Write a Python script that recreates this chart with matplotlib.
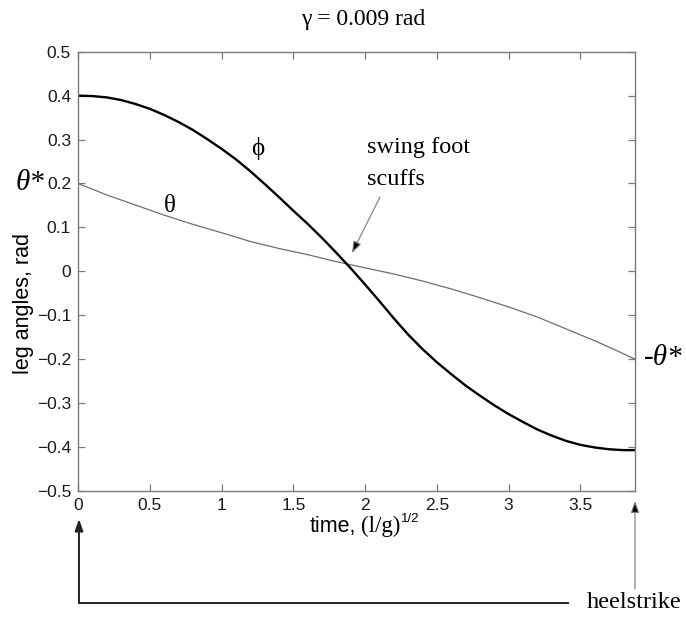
import matplotlib
matplotlib.use("Agg")
import matplotlib.pyplot as plt
from matplotlib.lines import Line2D

# Swing-leg angle phi over one step
t_phi = [0.0, 0.1, 0.2, 0.3, 0.4, 0.5, 0.6, 0.7, 0.8, 0.9, 1.0, 1.1, 1.2, 1.3,
         1.4, 1.5, 1.6, 1.7, 1.8, 1.9, 2.0, 2.1, 2.2, 2.3, 2.4, 2.5, 2.6, 2.7,
         2.8, 2.9, 3.0, 3.1, 3.2, 3.3, 3.4, 3.5, 3.6, 3.7, 3.8, 3.88]
phi = [0.400, 0.399, 0.396, 0.390, 0.381, 0.370, 0.356, 0.340, 0.322, 0.301,
       0.279, 0.255, 0.228, 0.199, 0.169, 0.138, 0.108, 0.076, 0.042, 0.007,
       -0.030, -0.068, -0.107, -0.144, -0.177, -0.207, -0.234, -0.260, -0.283,
       -0.305, -0.325, -0.343, -0.360, -0.374, -0.386, -0.395, -0.401, -0.405,
       -0.407, -0.407]

# Stance-leg angle theta over one step
t_theta = [0.0, 0.2, 0.4, 0.6, 0.8, 1.0, 1.2, 1.4, 1.6, 1.8, 2.0, 2.2, 2.4, 2.6,
           2.8, 3.0, 3.2, 3.4, 3.6, 3.75, 3.88]
theta = [0.200, 0.174, 0.151, 0.128, 0.107, 0.088, 0.068, 0.052, 0.038, 0.022,
         0.008, -0.006, -0.022, -0.040, -0.060, -0.081, -0.104, -0.131, -0.158,
         -0.180, -0.200]

x_ticks = [0, 0.5, 1, 1.5, 2, 2.5, 3, 3.5]
x_tick_labels = ["0", "0.5", "1", "1.5", "2", "2.5", "3", "3.5"]
y_ticks = [-0.5, -0.4, -0.3, -0.2, -0.1, 0, 0.1, 0.2, 0.3, 0.4, 0.5]
y_tick_labels = ["\u22120.5", "\u22120.4", "\u22120.3", "\u22120.2", "\u22120.1", "0",
                 "0.1", "0.2", "0.3", "0.4", "0.5"]

W, H = 686, 619
SANS = ["Liberation Sans", "DejaVu Sans"]
SERIF = ["Liberation Serif", "DejaVu Serif"]
SPINE = "#7a7a7a"

fig = plt.figure(figsize=(W / 100, H / 100), dpi=100)
ax = fig.add_axes([78 / W, 1 - 491 / H, (635 - 78) / W, (491 - 51.7) / H])

ax.plot(t_theta, theta, color="#6e6e6e", lw=0.9)
ax.plot(t_phi, phi, color="black", lw=1.7)

ax.set_xlim(0, 3.88)
ax.set_ylim(-0.5, 0.5)
ax.set_xticks(x_ticks)
ax.set_xticklabels(x_tick_labels, family=SANS, fontsize=12.5, color="#1a1a1a")
ax.set_yticks(y_ticks)
ax.set_yticklabels(y_tick_labels, family=SANS, fontsize=12.5, color="#1a1a1a")
ax.tick_params(direction="in", length=5, width=0.9, color=SPINE,
               top=True, right=True, pad=5)
for s in ax.spines.values():
    s.set_color(SPINE)
    s.set_linewidth(1.0)


def px(x, y):
    """Figure-fraction position from pixel coordinates measured from top-left."""
    return x / W, 1 - y / H


# Title
fig.text(*px(363, 20), "\u03b3 = 0.009 rad", family=SERIF, fontsize=17,
         ha="center", va="center")

# Axis labels
fig.text(*px(24, 304), "leg angles, rad", family=SANS, fontsize=15.5,
         rotation=90, ha="center", va="center")
fig.text(*px(310, 532), "time,", family=SANS, fontsize=15.5, ha="left", va="baseline")
fig.text(*px(361, 532), "(l/g)", family=SERIF, fontsize=16.5, ha="left", va="baseline")
fig.text(*px(401, 522), "1/2", family=SANS, fontsize=9.5, ha="left", va="baseline")

# Curve labels
fig.text(*px(258, 148), "\u03d5", family=SERIF, fontsize=18, ha="center", va="center")
fig.text(*px(170, 206), "\u03b8", family=SERIF, fontsize=18, ha="center", va="center")
fig.text(*px(16, 183), "\u03b8*", family=SERIF, fontsize=21, style="italic",
         ha="left", va="center")
fig.text(*px(644, 358), "-\u03b8*", family=SERIF, fontsize=21, style="italic",
         ha="left", va="center")

# Scuff annotation
fig.text(*px(367, 147), "swing foot", family=SERIF, fontsize=17.5, ha="left", va="center")
fig.text(*px(367, 180), "scuffs", family=SERIF, fontsize=17.5, ha="left", va="center")
ax.annotate("", xy=(352, H - 253), xytext=(380, H - 197), xycoords="figure pixels",
            textcoords="figure pixels",
            arrowprops=dict(arrowstyle="-|>,head_length=0.7,head_width=0.25",
                            color="#777777", lw=0.8, shrinkA=0, shrinkB=0,
                            fc="black", ec="#777777"))

# Heelstrike markers
fig.text(*px(587, 603), "heelstrike", family=SERIF, fontsize=17.5, ha="left", va="center")
fig.add_artist(Line2D([px(568, 603)[0], px(79, 603)[0]],
                      [px(568, 603)[1], px(79, 603)[1]],
                      transform=fig.transFigure, color="#222222", lw=1.4))
ax.annotate("", xy=(79, H - 519), xytext=(79, H - 603), xycoords="figure pixels",
            textcoords="figure pixels",
            arrowprops=dict(arrowstyle="-|>,head_length=0.7,head_width=0.25",
                            color="#222222", lw=1.4, shrinkA=0, shrinkB=0))
ax.annotate("", xy=(635, H - 501), xytext=(635, H - 589), xycoords="figure pixels",
            textcoords="figure pixels",
            arrowprops=dict(arrowstyle="-|>,head_length=0.7,head_width=0.25",
                            color="#777777", lw=0.8, shrinkA=0, shrinkB=0,
                            fc="black", ec="#777777"))

fig.savefig("out.png", dpi=100)
